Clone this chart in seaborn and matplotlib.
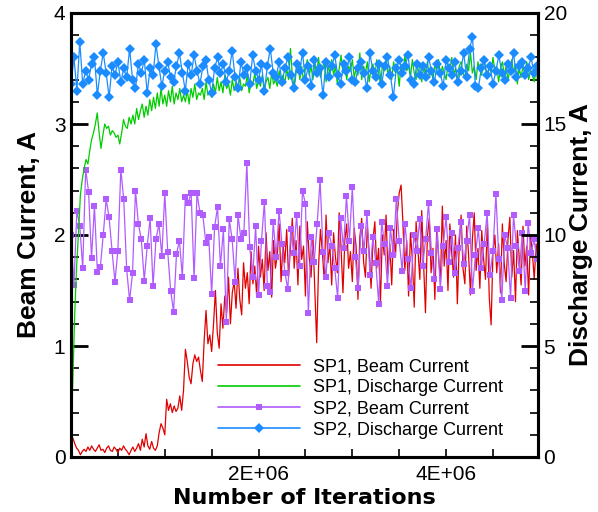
import numpy as np
import pandas as pd
import matplotlib
matplotlib.use("Agg")
import matplotlib.pyplot as plt
import seaborn as sns
from matplotlib.ticker import FixedLocator, MultipleLocator
from matplotlib.lines import Line2D

# ---------------- data ----------------
sp1_step = 20000
sp2_step = 31250

sp1_beam = [
    0.08, 0.17, 0.12, 0.08, 0.06, 0.02, 0.05, 0.07, 0.05, 0.09,
    0.06, 0.10, 0.07, 0.05, 0.08, 0.11, 0.06, 0.07, 0.04, 0.08,
    0.10, 0.06, 0.05, 0.09, 0.07, 0.04, 0.08, 0.06, 0.10, 0.07,
    0.05, 0.02, 0.06, 0.09, 0.05, 0.08, 0.12, 0.06, 0.16, 0.09,
    0.21, 0.10, 0.07, 0.14, 0.08, 0.06, 0.10, 0.22, 0.30, 0.26,
    0.20, 0.52, 0.42, 0.48, 0.40, 0.46, 0.41, 0.44, 0.55, 0.42,
    0.60, 0.97, 0.86, 0.72, 0.66, 0.84, 0.92, 0.86, 0.90, 0.78,
    0.68, 1.05, 1.32, 1.02, 1.10, 0.95, 1.20, 1.50, 1.12, 0.98,
    1.38, 1.16, 1.45, 1.30, 1.62, 1.20, 1.48, 1.58, 1.34, 1.70,
    1.42, 1.28, 1.75, 1.52, 1.66, 1.38, 1.85, 1.56, 1.72, 1.45,
    1.90, 1.62, 1.78, 1.50, 2.02, 1.68, 1.85, 1.44, 1.95, 1.70,
    1.82, 2.10, 1.58, 1.92, 1.75, 2.05, 1.62, 1.88, 2.15, 1.70,
    1.95, 1.55, 2.08, 1.78, 1.90, 1.45, 2.12, 1.80, 1.62, 1.98,
    1.50, 1.03, 1.72, 2.05, 1.85, 1.60, 2.18, 1.75, 1.92, 1.55,
    2.02, 1.80, 1.66, 2.20, 1.88, 1.48, 1.95, 2.10, 1.70, 1.85,
    1.58, 2.06, 1.90, 1.42, 1.98, 2.15, 1.76, 1.62, 2.08, 1.84,
    1.52, 1.96, 2.12, 1.70, 1.88, 1.40, 2.00, 1.82, 2.18, 1.65,
    1.92, 1.55, 2.05, 1.80, 2.20, 2.38, 2.45, 2.10, 1.68, 1.95,
    1.45, 2.02, 1.78, 1.35, 2.12, 1.86, 1.60, 2.22, 1.74, 1.30,
    1.98, 2.15, 1.66, 1.88, 1.42, 2.06, 1.80, 1.58, 2.26, 1.72,
    1.95, 1.50, 2.10, 1.84, 1.62, 2.00, 1.38, 1.90, 2.18, 1.70,
    1.56, 2.08, 1.82, 1.46, 1.96, 2.20, 1.68, 1.88, 1.52, 2.04,
    1.78, 1.60, 2.12, 1.44, 1.19, 1.85, 2.00, 1.66, 1.92, 1.48,
    2.10, 1.74, 1.58, 1.96, 2.16, 1.62, 1.86, 1.40, 2.04, 1.80,
    1.55, 2.08, 1.72, 1.90, 1.46, 2.00, 1.84, 1.60, 1.92, 1.75,
]

sp1_discharge = [
    0.5, 3.5, 6.5, 8.6, 10.1, 11.8, 12.5, 13.0, 13.4, 13.2,
    13.8, 14.3, 14.6, 15.0, 15.5, 14.6, 13.9, 14.5, 15.0, 14.8,
    14.9, 14.5, 14.7, 14.6, 14.4, 14.5, 14.1, 14.6, 15.2, 14.9,
    14.8, 15.3, 15.0, 15.4, 15.0, 15.7, 15.2, 15.6, 15.9, 15.3,
    15.8, 15.4, 16.1, 15.6, 16.2, 15.7, 16.4, 15.8, 16.6, 15.9,
    16.3, 15.8, 16.5, 16.0, 16.7, 15.9, 16.4, 16.1, 16.6, 16.0,
    16.3, 16.0, 16.5, 15.9, 16.6, 16.2, 16.8, 16.1, 16.4, 16.3,
    16.6, 16.1, 16.9, 16.3, 16.5, 16.2, 16.8, 16.4, 17.1, 16.5,
    16.9, 16.4, 17.2, 16.6, 16.8, 16.3, 17.0, 16.5, 16.9, 16.6,
    17.1, 16.5, 16.8, 16.7, 17.2, 16.4, 16.9, 16.8, 17.3, 16.6,
    17.0, 16.7, 17.2, 16.5, 16.9, 17.1, 16.6, 17.3, 16.8, 17.0,
    16.7, 17.4, 16.9, 17.2, 16.8, 17.5, 17.0, 18.4, 17.2, 16.6,
    17.3, 17.8, 17.0, 17.6, 16.9, 17.5, 17.9, 17.2, 17.6, 17.0,
    17.7, 17.3, 18.0, 17.1, 17.5, 17.8, 16.9, 17.6, 17.3, 17.9,
    17.2, 17.6, 16.8, 17.5, 18.1, 17.3, 17.7, 17.0, 17.6, 17.4,
    17.9, 17.1, 17.5, 17.2, 18.2, 17.0, 17.6, 17.3, 17.8, 16.9,
    17.5, 17.7, 17.1, 17.9, 17.3, 16.8, 17.6, 17.4, 18.0, 17.2,
    17.6, 17.0, 17.8, 17.3, 17.5, 16.7, 17.7, 17.2, 18.1, 17.4,
    17.6, 17.1, 17.9, 17.3, 17.0, 17.8, 17.5, 16.9, 17.6, 17.3,
    17.8, 17.2, 17.5, 17.0, 17.7, 17.4, 17.9, 17.1, 17.6, 17.3,
    17.0, 17.7, 17.4, 18.0, 17.2, 17.5, 16.9, 17.6, 17.8, 17.3,
    17.1, 17.7, 17.4, 18.2, 17.3, 17.6, 17.0, 17.8, 17.4, 17.2,
    17.9, 17.5, 17.1, 17.7, 17.3, 18.0, 17.4, 17.6, 16.9, 17.5,
    17.8, 17.2, 17.6, 17.0, 17.4, 17.9, 17.3, 17.7, 16.8, 17.5,
    17.1, 17.6, 17.3, 17.8, 17.0, 17.4, 17.2, 16.9, 17.5, 16.8,
]

sp2_beam = [
    2.00, 1.55, 2.22, 2.08, 1.70, 2.59, 2.39, 1.79, 2.26, 1.67,
    1.71, 2.00, 2.32, 2.16, 1.86, 1.58, 1.86, 2.59, 2.32, 1.69,
    1.41, 1.66, 2.40, 2.10, 1.96, 1.59, 1.90, 2.15, 1.54, 1.96,
    2.10, 1.81, 2.38, 1.85, 1.50, 1.31, 1.83, 1.95, 1.62, 2.34,
    2.29, 2.38, 1.61, 2.38, 2.20, 2.18, 1.93, 1.98, 1.47, 2.07,
    2.25, 1.72, 2.05, 1.22, 2.14, 1.96, 1.58, 2.18, 1.96, 2.02,
    2.65, 1.89, 1.62, 2.08, 1.46, 1.95, 2.30, 1.54, 1.49, 2.12,
    1.80, 2.22, 1.92, 1.66, 1.51, 2.05, 1.84, 2.18, 1.72, 2.40,
    2.28, 1.30, 1.98, 1.76, 2.10, 2.50, 1.85, 1.62, 2.02, 1.90,
    1.70, 1.43, 2.15, 1.88, 2.35, 1.95, 2.43, 1.80, 1.52, 2.08,
    1.86, 2.20, 1.64, 1.98, 1.75, 1.38, 2.12, 1.92, 1.54, 2.06,
    1.82, 2.32, 1.95, 1.68, 2.10, 1.78, 1.52, 2.00, 1.86, 2.14,
    1.72, 1.96, 2.29, 1.84, 1.60, 2.05, 1.51, 1.90, 2.16, 1.76,
    2.02, 1.66, 1.88, 2.12, 1.74, 1.95, 2.18, 1.50, 1.82, 2.06,
    1.70, 1.92, 2.20, 1.64, 1.86, 2.37, 1.78, 1.41, 2.00, 1.88,
    1.43, 2.18, 1.90, 1.68, 2.02, 1.50, 2.11, 1.84, 1.96, 1.78,
]

sp2_discharge = [
    16.8, 18.0, 16.5, 18.7, 16.8, 17.4, 17.0, 17.7, 18.0, 16.3,
    17.4, 18.2, 17.3, 16.2, 17.6, 17.2, 17.8, 16.9, 17.5, 17.1,
    18.4, 17.0, 16.6, 17.7, 17.3, 17.9, 16.4, 17.5, 17.2, 18.6,
    17.6, 16.7, 17.4, 17.8, 17.1, 16.9, 17.6, 18.2, 17.3, 16.5,
    17.7, 17.2, 18.1, 17.4, 16.8, 17.6, 17.9, 17.0, 16.4, 17.5,
    18.0, 17.3, 17.7, 16.9, 17.4, 18.3, 17.1, 16.6, 17.8, 17.2,
    17.5, 16.8, 18.1, 17.4, 17.0, 17.7, 16.5, 17.6, 18.4, 17.3,
    17.1, 17.8, 16.9, 17.5, 18.0, 17.2, 16.6, 17.7, 17.4, 18.2,
    17.0, 17.6, 16.7, 17.9, 17.3, 17.5, 16.3, 17.8, 17.1, 17.6,
    18.1, 17.2, 16.8, 17.7, 17.4, 18.0, 17.0, 16.9, 17.5, 17.8,
    17.3, 16.6, 18.2, 17.4, 17.1, 17.7, 16.8, 17.6, 18.0, 17.2,
    16.2, 17.5, 17.9, 17.3, 17.6, 18.1, 17.0, 16.8, 17.7, 17.2,
    17.6, 17.1, 18.0, 17.4, 16.9, 17.7, 17.3, 16.7, 17.9, 17.5,
    17.2, 17.8, 16.9, 17.4, 18.2, 17.1, 18.4, 18.9, 16.7, 16.6,
    17.5, 17.9, 17.2, 17.6, 16.8, 17.4, 18.1, 17.3, 17.0, 17.7,
    17.4, 18.2, 17.1, 17.6, 17.8, 17.2, 17.5, 18.0, 17.3, 17.6,
]

labels = ["SP1, Beam Current", "SP1, Discharge Current",
          "SP2, Beam Current", "SP2, Discharge Current"]
x_tick_values = [2e6, 4e6]
x_tick_labels = ["2E+06", "4E+06"]

sp1 = pd.DataFrame({"iter": np.arange(len(sp1_beam)) * sp1_step,
                    "beam": sp1_beam, "discharge": sp1_discharge})
sp2 = pd.DataFrame({"iter": np.arange(len(sp2_beam)) * sp2_step,
                    "beam": sp2_beam, "discharge": sp2_discharge})

# ---------------- styling ----------------
sns.set_theme(style="ticks")
plt.rcParams["font.family"] = ["Liberation Sans", "DejaVu Sans"]
plt.rcParams["text.color"] = "black"

c_red = "#e00000"
c_green = "#00cc00"
c_purple = "#b05cff"
c_blue = "#1a8cff"

fig = plt.figure(figsize=(5.98, 5.12), dpi=100)
ax = fig.add_axes([71/598, 1-457/512, (538-71)/598, (457-13)/512])
ax2 = ax.twinx()

sns.lineplot(data=sp1, x="iter", y="beam", ax=ax, color=c_red, lw=0.9,
             estimator=None, sort=False, legend=False)
sns.lineplot(data=sp2, x="iter", y="beam", ax=ax, color=c_purple, lw=0.9,
             marker="s", markersize=4.5, markeredgewidth=0, estimator=None,
             sort=False, legend=False)
sns.lineplot(data=sp1, x="iter", y="discharge", ax=ax2, color=c_green, lw=0.9,
             estimator=None, sort=False, legend=False)
sns.lineplot(data=sp2, x="iter", y="discharge", ax=ax2, color=c_blue, lw=0.9,
             marker="D", markersize=4.8, markeredgewidth=0, estimator=None,
             sort=False, legend=False)

ax.set_xlim(0, 4.98e6)
ax.set_ylim(0, 4)
ax2.set_ylim(0, 20)

ax.xaxis.set_major_locator(FixedLocator(x_tick_values))
ax.set_xticklabels(x_tick_labels)
ax.xaxis.set_minor_locator(MultipleLocator(5e5))
ax.yaxis.set_major_locator(MultipleLocator(1))
ax.yaxis.set_minor_locator(MultipleLocator(0.2))
ax2.yaxis.set_major_locator(MultipleLocator(5))
ax2.yaxis.set_minor_locator(MultipleLocator(1))

for a in (ax, ax2):
    for s in a.spines.values():
        s.set_linewidth(2.2)
        s.set_color("black")
ax.tick_params(axis="both", which="major", direction="in", length=12, width=2,
               labelsize=15, pad=4, colors="black")
ax.tick_params(axis="both", which="minor", direction="in", length=6, width=1.2,
               colors="black")
ax.tick_params(axis="x", which="major", length=6, width=1.2, pad=6)
ax2.tick_params(axis="y", which="major", direction="in", length=12, width=2,
                labelsize=15, pad=4, colors="black")
ax2.tick_params(axis="y", which="minor", direction="in", length=6, width=1.2,
                colors="black")

ax.set_xlabel("Number of Iterations", fontsize=16, fontweight="bold",
              labelpad=3, color="black", family="DejaVu Sans")
ax.set_ylabel("Beam Current, A", fontsize=19, fontweight="bold", color="black")
ax2.set_ylabel("Discharge Current, A", fontsize=19, fontweight="bold",
               color="black")
ax.yaxis.set_label_coords((41 - 71) / 467, 0.5)
ax2.yaxis.set_label_coords((569 - 71) / 467, 0.5)

handles = [
    Line2D([], [], color=c_red, lw=1.2),
    Line2D([], [], color=c_green, lw=1.2),
    Line2D([], [], color=c_purple, lw=1.2, marker="s", markersize=5,
           markeredgewidth=0),
    Line2D([], [], color=c_blue, lw=1.2, marker="D", markersize=5,
           markeredgewidth=0),
]
leg = ax2.legend(handles, labels, loc="lower left",
                 bbox_to_anchor=(140/467, 11/444), frameon=False,
                 fontsize=13, handlelength=4.55, handletextpad=0.72,
                 labelspacing=0.23, numpoints=1, borderaxespad=0)
for t in leg.get_texts():
    t.set_color("black")

fig.savefig("out.png", dpi=100)
